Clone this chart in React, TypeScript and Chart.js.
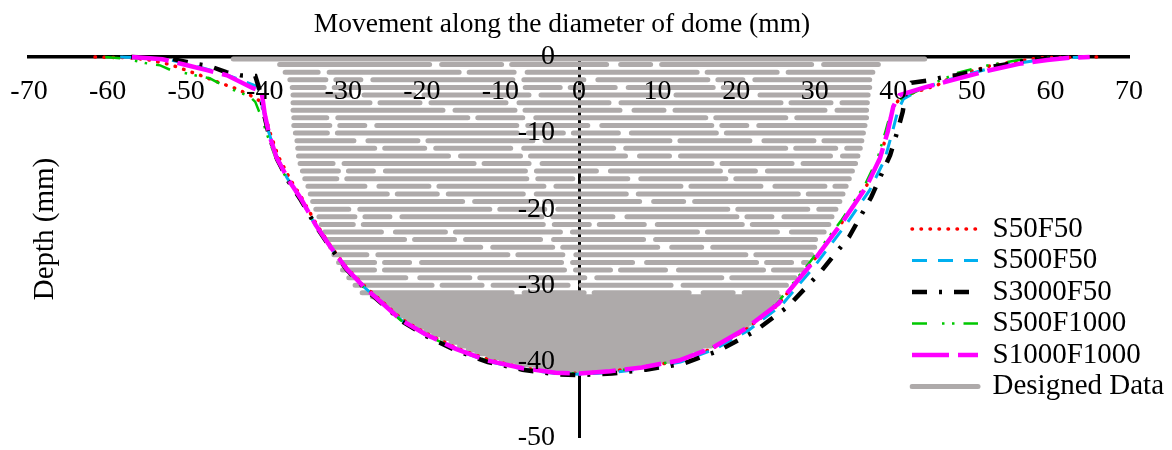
import React, { useEffect, useRef } from 'react';
import { Chart, registerables } from 'chart.js';

Chart.register(...registerables);

const FONT = '"Liberation Serif", "Times New Roman", serif';
const TICK_SIZE = 28;
const LEGEND_SIZE = 29;
const TITLE_SIZE = 27.5;
const YTITLE_SIZE = 29;

const xTitle = 'Movement along the diameter of dome (mm)';
const yTitle = 'Depth (mm)';

const xTicks = [-70, -60, -50, -40, -30, -20, -10, 0, 10, 20, 30, 40, 50, 60, 70];
const yTicks = [0, -10, -20, -30, -40, -50];

const seriesNames = ['S50F50', 'S500F50', 'S3000F50', 'S500F1000', 'S1000F1000'];
const designName = 'Designed Data';

// S50F50
const s50f50X = [-61.6, -57.1, -54.6, -52, -50.1, -48.2, -45.7, -43.8, -41.9, -40.6, -40.0, -39.3, -38.3, -36.8, -35.3, -33.4, -31.5, -29.5, -27.2, -25.0, -22.5, -19.5, -15.5, -11.5, -7.0, -3.0, 0, 4.0, 8.0, 12.5, 16.8, 21.0, 25.2, 29.3, 33.3, 36.3, 38.3, 39.3, 40.0, 41.0, 42.5, 45.6, 47.5, 52.7, 58.7, 66.6];
const s50f50Y = [0, -0.1, -0.4, -1.0, -1.7, -2.4, -3.4, -4.1, -5.0, -5.8, -7.5, -10, -13, -16, -18.5, -22, -25, -27.8, -30.2, -32.2, -34.5, -36.3, -38.3, -39.8, -40.9, -41.5, -41.6, -41.3, -40.8, -40.0, -38.4, -36.0, -32.7, -27.5, -22, -17.5, -13.5, -9.5, -6.5, -5.3, -4.7, -3.7, -2.6, -1.05, -0.1, 0];

// S500F50
const s500f50X = [-58.4, -55, -52, -49.5, -47, -45, -43.1, -40.9, -40.3, -39.6, -38.6, -37.2, -35.6, -33.6, -31.6, -29.6, -27.3, -25.1, -22.6, -19.6, -15.6, -11.6, -7.2, -3.0, 0, 4.0, 8.2, 12.9, 17.3, 21.6, 25.8, 29.9, 34.0, 37.0, 38.9, 39.9, 40.6, 41.3, 44.0, 48.0, 53.0, 58.5, 62.0, 65.0];
const s500f50Y = [0, -0.1, -0.4, -1.0, -1.7, -2.3, -3.0, -3.9, -6.5, -9.5, -12.8, -15.8, -18.4, -22, -25, -27.8, -30.3, -32.3, -34.6, -36.5, -38.5, -40.0, -41.0, -41.6, -41.7, -41.5, -41.0, -40.1, -38.4, -35.9, -32.6, -27.6, -22, -17.5, -13.5, -9.8, -7.0, -5.5, -4.0, -2.7, -1.3, -0.4, -0.1, 0];

// S3000F50
const s3000f50X = [-57, -53.7, -52, -48.9, -47, -44.9, -43.1, -41.2, -40.6, -40.1, -39.4, -38.4, -37.0, -35.4, -33.5, -31.6, -29.6, -27.3, -25.1, -22.6, -19.6, -15.6, -11.6, -7.2, -3.0, 0, 4.2, 8.5, 13.3, 17.8, 22.3, 26.6, 30.7, 34.4, 37.2, 39.6, 40.6, 41.2, 41.6, 42.3, 44.3, 46.2, 48.0, 52.5, 57.4, 62.5];
const s3000f50Y = [0, -0.1, -0.2, -0.9, -1.2, -2.0, -2.4, -2.5, -4.5, -7.5, -10.5, -13.5, -16.3, -18.8, -22.2, -25.1, -27.9, -30.4, -32.4, -34.7, -36.6, -38.6, -40.1, -41.1, -41.7, -41.8, -41.6, -41.1, -40.3, -38.6, -36.1, -32.8, -28.3, -23.6, -18.4, -12.9, -9.5, -7.2, -4.5, -3.4, -3.1, -2.7, -2.4, -1.3, -0.4, 0];

// S500F1000
const s500f1000X = [-60.3, -57.8, -55.2, -53.3, -52, -48.9, -47, -45, -41.9, -41.2, -40.4, -39.6, -38.6, -37.1, -35.5, -33.6, -31.7, -29.7, -27.4, -25.2, -22.7, -19.7, -15.7, -11.7, -7.2, -3.0, 0, 4.0, 8.0, 12.6, 16.9, 21.1, 25.2, 29.2, 33.3, 36.3, 38.0, 39.0, 39.8, 41.0, 44.0, 48.1, 52.0, 56.0, 60.3];
const s500f1000Y = [0, -0.2, -0.8, -1.1, -1.7, -2.4, -2.8, -3.9, -5.2, -5.9, -8.0, -10.5, -13.3, -16.2, -18.6, -22, -25, -27.8, -30.3, -32.3, -34.6, -36.4, -38.4, -39.9, -40.9, -41.5, -41.6, -41.3, -40.8, -39.9, -38.2, -35.8, -32.4, -27.2, -21.6, -17.0, -13.3, -9.8, -6.8, -5.5, -4.0, -2.1, -1.1, -0.4, 0];

// S1000F1000
const s1000f1000X = [-56.9, -53, -50, -47.5, -44.8, -41.5, -40.4, -40.0, -39.4, -38.5, -37.0, -35.4, -33.5, -31.6, -29.6, -27.3, -25.1, -22.6, -19.6, -15.6, -11.6, -7.2, -3.0, 0, 4.0, 8.0, 12.7, 17.0, 21.2, 25.4, 29.5, 33.6, 36.6, 38.3, 39.3, 40.0, 40.8, 44.0, 47.6, 52.0, 56.0, 59.6, 62.5, 65.0];
const s1000f1000Y = [0, -0.3, -1.05, -1.7, -2.4, -4.1, -4.5, -7.5, -10.3, -13.2, -16.1, -18.6, -22.1, -25, -27.8, -30.3, -32.3, -34.6, -36.4, -38.4, -39.9, -40.9, -41.5, -41.6, -41.3, -40.8, -39.9, -38.2, -35.7, -32.4, -27.3, -21.6, -17.0, -13.3, -9.8, -6.5, -5.0, -4.0, -3.0, -1.8, -0.9, -0.4, -0.1, 0];

// Designed data: broken rows
const stripeDepth = [-1, -2, -3, -4, -5, -6, -7, -8, -9, -10, -11, -12, -13, -14, -15, -16, -17, -18, -19, -20, -21, -22, -23, -24, -25, -26, -27, -28, -29, -30, -31];
const stripeLeft = [-38.1, -37.4, -36.8, -36.5, -36.4, -36.4, -36.4, -36.3, -36.3, -36.1, -35.9, -35.8, -35.7, -35.5, -35.2, -34.9, -34.5, -34.2, -33.9, -33.5, -33.1, -32.8, -32.4, -32.0, -31.6, -31.2, -30.6, -30.1, -29.3, -28.5, -27.6];
const stripeRight = [38.1, 37.4, 37.0, 37.0, 36.8, 36.7, 36.6, 36.6, 36.4, 36.2, 36.0, 35.8, 35.5, 35.2, 34.8, 34.4, 34.0, 33.6, 33.2, 32.7, 32.2, 31.8, 31.2, 30.5, 30.0, 29.6, 29.1, 28.5, 27.5, 26.4, 25.2];

// Designed data: solid rows (top row and dense bottom)
const solidDepth = [-0.25, -31.5, -32, -32.5, -33, -33.5, -34, -34.5, -35, -35.5, -36, -36.5, -37, -37.5, -38, -38.5, -39, -39.5, -40, -40.5, -41, -41.4];
const solidLeft = [-44, -26.3, -24.9, -24.4, -23.7, -23.3, -22.8, -22.1, -21.4, -20.5, -19.5, -18.5, -17.4, -16.3, -15.2, -14.1, -13.0, -11.6, -9.9, -7.9, -5.0, -2.0];
const solidRight = [44, 25.5, 25.0, 24.6, 24.2, 23.6, 23.0, 22.5, 22.0, 21.4, 20.8, 19.9, 19.0, 17.9, 16.8, 15.5, 14.2, 13.2, 12.0, 9.8, 6.5, 2.5];

// horizontal offset (in x units) of the y tick label column from the x = 0 axis line
const yLabelColumnX = -3.05;

const GREY = '#AEAAAA';
const stripePatterns = [
  [150, 12, 60, 10, 95, 14, 30, 11],
  [70, 11, 130, 10, 45, 13, 170, 10],
  [110, 10, 25, 12, 140, 11, 60, 14],
  [45, 13, 85, 10, 180, 11, 35, 10],
  [125, 10, 70, 14, 50, 10, 105, 12],
  [90, 12, 160, 10, 40, 11, 75, 13],
];

function toPoints(xs: number[], ys: number[]) {
  return xs.map((x, i) => ({ x, y: ys[i] }));
}

function rowsToPoints(depths: number[], lefts: number[], rights: number[], filter?: (i: number) => boolean) {
  const pts: any[] = [];
  depths.forEach((d, i) => {
    if (filter && !filter(i)) return;
    pts.push({ x: lefts[i], y: d }, { x: rights[i], y: d }, { x: rights[i], y: null });
  });
  return pts;
}

const legendPlacer = {
  id: 'legendPlacer',
  afterLayout(chart: any) {
    const lg = chart.legend;
    if (!lg) return;
    const ca = chart.chartArea;
    const w = lg.width;
    lg.left = ca.right - 219.5;
    lg.top = ca.top + 155;
    lg.right = lg.left + w;
    lg.bottom = chart.height;
  },
};

const axisTitles = {
  id: 'axisTitles',
  afterDraw(chart: any) {
    const { ctx, chartArea: ca } = chart;
    ctx.save();
    ctx.fillStyle = '#000';
    ctx.textAlign = 'center';
    ctx.textBaseline = 'middle';
    ctx.font = `${TITLE_SIZE}px ${FONT}`;
    ctx.fillText(xTitle, (ca.left + ca.right) / 2 - 17, ca.top - 32);
    ctx.font = `${YTITLE_SIZE}px ${FONT}`;
    ctx.translate(ca.left + 16.5, ca.top + 172);
    ctx.rotate(-Math.PI / 2);
    ctx.fillText(yTitle, 0, 0);
    ctx.restore();
  },
};

export default function App() {
  const ref = useRef<HTMLCanvasElement>(null);

  useEffect(() => {
    document.body.style.margin = '0';
    Chart.defaults.font.family = FONT;
    const common = { pointRadius: 0, pointHoverRadius: 0, fill: false, tension: 0, spanGaps: false, clip: false as any };

    const curveStyles = [
      { borderColor: '#FF0000', borderWidth: 3.5, borderDash: [0.5, 8.5], borderCapStyle: 'round', order: 4 },
      { borderColor: '#00B0F0', borderWidth: 3, borderDash: [15, 11], borderCapStyle: 'butt', order: 3 },
      { borderColor: '#000000', borderWidth: 4.5, borderDash: [15, 12, 3, 12], borderCapStyle: 'butt', order: 1 },
      { borderColor: '#00C800', borderWidth: 2.5, borderDash: [15, 15, 2.5, 7.5, 2.5, 9], borderCapStyle: 'butt', order: 2 },
      { borderColor: '#FF00FF', borderWidth: 4.5, borderDash: [37, 9], borderCapStyle: 'butt', order: 0 },
    ];
    const curveData = [
      toPoints(s50f50X, s50f50Y),
      toPoints(s500f50X, s500f50Y),
      toPoints(s3000f50X, s3000f50Y),
      toPoints(s500f1000X, s500f1000Y),
      toPoints(s1000f1000X, s1000f1000Y),
    ];

    const datasets: any[] = seriesNames.map((name, i) => ({
      label: name,
      data: curveData[i],
      ...common,
      ...curveStyles[i],
    }));

    datasets.push({
      label: designName,
      data: rowsToPoints(solidDepth, solidLeft, solidRight),
      ...common,
      borderColor: GREY,
      borderWidth: 5,
      borderCapStyle: 'round',
      order: 10,
    });

    stripePatterns.forEach((pat, g) => {
      datasets.push({
        label: '',
        data: rowsToPoints(stripeDepth, stripeLeft, stripeRight, (i) => i % stripePatterns.length === g),
        ...common,
        borderColor: GREY,
        borderWidth: 5,
        borderCapStyle: 'round',
        borderDash: pat,
        borderDashOffset: g * 37,
        order: 11,
      });
    });

    const tickFont = { family: FONT, size: TICK_SIZE };

    const chart = new Chart(ref.current as HTMLCanvasElement, {
      type: 'line',
      data: { datasets },
      options: {
        animation: false,
        responsive: true,
        maintainAspectRatio: false,
        devicePixelRatio: 1,
        layout: { autoPadding: false, padding: { left: 29, right: 43, top: 57, bottom: 12 } } as any,
        scales: {
          x: {
            type: 'linear',
            min: -70,
            max: 70,
            position: { y: 0 } as any,
            grid: { display: false, drawTicks: false, tickLength: 0 },
            border: { display: true, color: '#000', width: 3.5, z: 0 } as any,
            ticks: { z: 1, padding: 0, color: '#000', font: { ...tickFont, lineHeight: 2.45 }, maxRotation: 0, autoSkip: false } as any,
            afterBuildTicks: (s: any) => {
              s.ticks = xTicks.map((v) => ({ value: v }));
            },
          },
          y: {
            type: 'linear',
            min: -50,
            max: 0,
            position: { x: 0 } as any,
            grid: { display: false, drawTicks: false, tickLength: 0 },
            border: { display: true, color: '#000', width: 3, z: 0 } as any,
            ticks: { display: false },
            afterBuildTicks: (s: any) => {
              s.ticks = yTicks.map((v) => ({ value: v }));
            },
          },
          yLabels: {
            type: 'linear',
            axis: 'y',
            min: -50,
            max: 0,
            position: { x: yLabelColumnX } as any,
            grid: { display: false, drawTicks: false, tickLength: 0 },
            border: { display: false },
            ticks: { z: 1, padding: 0, color: '#000', font: { ...tickFont, lineHeight: 0.9 }, autoSkip: false } as any,
            afterBuildTicks: (s: any) => {
              s.ticks = yTicks.map((v) => ({ value: v }));
            },
          } as any,
        },
        plugins: {
          tooltip: { enabled: false },
          title: { display: false },
          legend: {
            position: 'chartArea' as any,
            align: 'start',
            labels: {
              usePointStyle: true,
              pointStyle: 'line',
              pointStyleWidth: 66,
              boxWidth: 66,
              padding: 2.5,
              color: '#000',
              font: { family: FONT, size: LEGEND_SIZE },
              generateLabels: (ch: any) => {
                const items = Chart.defaults.plugins.legend.labels.generateLabels(ch);
                items.forEach((it: any) => {
                  const ds = ch.data.datasets[it.datasetIndex];
                  it.lineDash = ds.borderDash || [];
                  it.lineWidth = ds.borderWidth;
                  it.lineCap = ds.borderCapStyle || 'butt';
                  it.strokeStyle = ds.borderColor;
                  it.pointStyle = 'line';
                });
                return items;
              },
              filter: (item: any) => !!item.text,
              sort: (a: any, b: any) => a.datasetIndex - b.datasetIndex,
            },
          },
        },
      },
      plugins: [legendPlacer, axisTitles],
    });

    return () => chart.destroy();
  }, []);

  return (
    <div style={{ width: 1172, height: 450, position: 'relative' }}>
      <canvas ref={ref} />
    </div>
  );
}
